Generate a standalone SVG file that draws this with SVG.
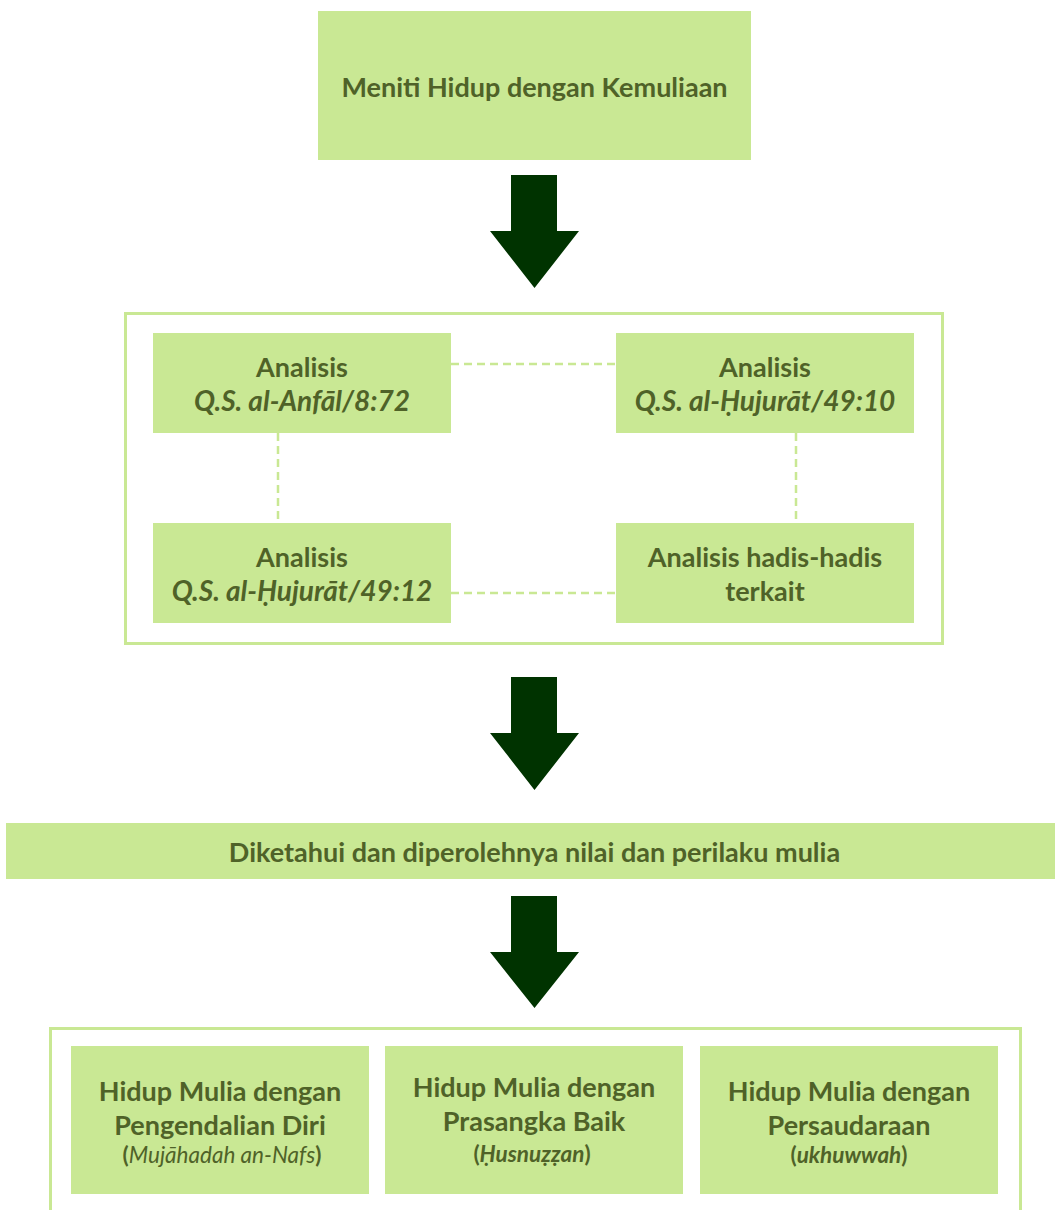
<svg xmlns="http://www.w3.org/2000/svg" width="1055" height="1210" viewBox="0 0 1055 1210">
<style>
.box{fill:#C9E894;}
.frame{fill:none;stroke:#C9E894;stroke-width:3;}
.t{font-family:Lato,"Open Sans","Liberation Sans",sans-serif;font-weight:bold;fill:#4F6228;text-anchor:middle;font-size:27px;}
.s{font-size:22.5px;}
.i{font-style:italic;font-size:28px;}
.dash{stroke:#C9E894;stroke-width:2.5;stroke-dasharray:8 5;fill:none;}
.arrow{fill:#003300;}
</style>
<rect width="1055" height="1210" fill="#FFFFFF"/>
<g id="frames">
<rect class="frame" x="125.5" y="313.5" width="817" height="330"/>
<rect class="frame" x="50.5" y="1028.5" width="970" height="200"/>
</g>
<g id="connectors">
<line class="dash" x1="451" y1="364" x2="616" y2="364"/>
<line class="dash" x1="451" y1="593" x2="616" y2="593"/>
<line class="dash" x1="278" y1="433" x2="278" y2="523"/>
<line class="dash" x1="796" y1="433" x2="796" y2="523"/>
<polygon class="arrow" points="511,175 557,175 557,231 579,231 534.5,288 490,231 511,231"/>
<polygon class="arrow" points="511,677 557,677 557,733 579,733 534.5,790 490,733 511,733"/>
<polygon class="arrow" points="511,896 557,896 557,952 579,952 534.5,1008 490,952 511,952"/>
</g>
<g id="node-top">
<rect class="box" x="318" y="11" width="433" height="149"/>
<text class="t" x="534.5" y="97" font-size="28">Meniti Hidup dengan Kemuliaan</text>
</g>
<g id="node-anfal">
<rect class="box" x="153" y="333" width="298" height="100"/>
<text class="t" x="302" y="377">Analisis</text>
<text class="t i" x="302" y="411">Q.S. al-Anfāl/8:72</text>
</g>
<g id="node-hujurat10">
<rect class="box" x="616" y="333" width="298" height="100"/>
<text class="t" x="765" y="377">Analisis</text>
<text class="t i" x="765" y="411">Q.S. al-Ḥujurāt/49:10</text>
</g>
<g id="node-hujurat12">
<rect class="box" x="153" y="523" width="298" height="100"/>
<text class="t" x="302" y="567">Analisis</text>
<text class="t i" x="302" y="601">Q.S. al-Ḥujurāt/49:12</text>
</g>
<g id="node-hadis">
<rect class="box" x="616" y="523" width="298" height="100"/>
<text class="t" x="765" y="567">Analisis hadis-hadis</text>
<text class="t" x="765" y="601">terkait</text>
</g>
<g id="node-banner">
<rect class="box" x="6" y="823" width="1049" height="56"/>
<text class="t" x="534.5" y="862" font-size="25.7">Diketahui dan diperolehnya nilai dan perilaku mulia</text>
</g>
<g id="node-nafs">
<rect class="box" x="71" y="1046" width="298" height="148"/>
<text class="t" x="220" y="1101">Hidup Mulia dengan</text>
<text class="t" x="220" y="1135">Pengendalian Diri</text>
<text class="t s" x="222" y="1163">(<tspan font-weight="normal" font-style="italic">Mujāhadah an-Nafs</tspan>)</text>
</g>
<g id="node-husnuzzan">
<rect class="box" x="385" y="1046" width="298" height="148"/>
<text class="t" x="534" y="1097">Hidup Mulia dengan</text>
<text class="t" x="534" y="1131">Prasangka Baik</text>
<text class="t s" x="532" y="1162">(<tspan font-style="italic">Ḥusnuẓẓan</tspan>)</text>
</g>
<g id="node-ukhuwwah">
<rect class="box" x="700" y="1046" width="298" height="148"/>
<text class="t" x="849" y="1101">Hidup Mulia dengan</text>
<text class="t" x="849" y="1135">Persaudaraan</text>
<text class="t s" x="849" y="1163">(<tspan font-style="italic">ukhuwwah</tspan>)</text>
</g>
</svg>
